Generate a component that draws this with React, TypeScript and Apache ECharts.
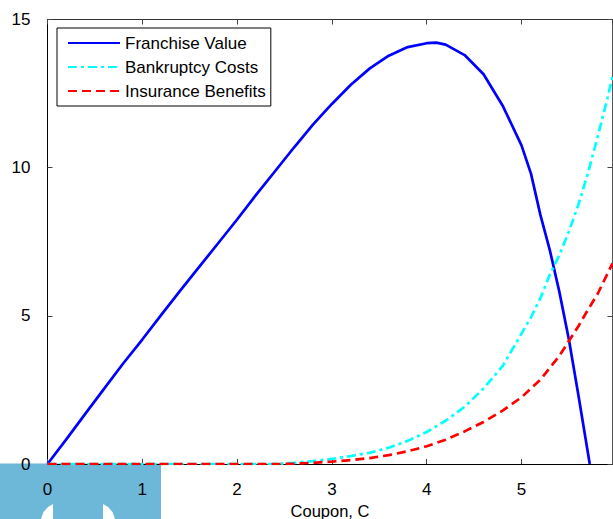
import React, { useEffect, useRef } from "react";
import * as echarts from "echarts";

// Franchise value (blue, solid)
const couponFV = [0, 0.2, 0.4, 0.6, 0.8, 1.0, 1.2, 1.4, 1.6, 1.8, 2.0, 2.2, 2.4, 2.6, 2.8, 3.0, 3.2, 3.4, 3.6, 3.8, 4.0, 4.1, 4.2, 4.4, 4.6, 4.8, 5.0, 5.1, 5.2, 5.3, 5.4, 5.5, 5.6, 5.72];
const franchiseValue = [0, 0.84, 1.7, 2.55, 3.4, 4.2, 5.03, 5.85, 6.65, 7.45, 8.25, 9.08, 9.88, 10.68, 11.45, 12.15, 12.8, 13.35, 13.78, 14.07, 14.2, 14.22, 14.15, 13.8, 13.15, 12.1, 10.75, 9.8, 8.4, 7.2, 5.8, 4.2, 2.33, 0];

// Bankruptcy costs (cyan, dash-dot)
const couponBC = [0, 1, 2, 2.4, 2.6, 2.8, 3.0, 3.2, 3.4, 3.6, 3.8, 4.0, 4.2, 4.4, 4.6, 4.8, 5.0, 5.1, 5.2, 5.3, 5.4, 5.5, 5.6, 5.7, 5.8, 5.9, 5.96];
const bankruptcyCosts = [0, 0, 0, 0, 0.04, 0.1, 0.17, 0.27, 0.38, 0.55, 0.78, 1.08, 1.46, 1.93, 2.55, 3.3, 4.4, 4.95, 5.6, 6.4, 7.05, 7.85, 8.75, 9.8, 11.0, 12.25, 13.07];

// Insurance benefits (red, dashed)
const couponIB = [0, 1, 2, 2.5, 2.6, 2.8, 3.0, 3.2, 3.4, 3.6, 3.8, 4.0, 4.2, 4.4, 4.6, 4.8, 5.0, 5.2, 5.4, 5.5, 5.6, 5.7, 5.8, 5.96];
const insuranceBenefits = [0, 0, 0, 0, 0.01, 0.04, 0.08, 0.13, 0.2, 0.3, 0.43, 0.6, 0.82, 1.1, 1.42, 1.8, 2.25, 2.85, 3.65, 4.15, 4.65, 5.2, 5.72, 6.77];

const seriesNames = ["Franchise Value", "Bankruptcy Costs", "Insurance Benefits"];
const xMin = 0;
const xMax = 5.96;
const xInterval = 1;
const yMin = 0;
const yMax = 15;
const yInterval = 5;
const xAxisTitle = "Coupon, C";

const FONT = "'Liberation Sans', Arial, Helvetica, sans-serif";

export default function App() {
  const ref = useRef<HTMLDivElement>(null);

  useEffect(() => {
    if (!ref.current) return;
    const chart = echarts.init(ref.current, undefined, { renderer: "svg" });

    const tickStyle = { inside: true, length: 5, lineStyle: { color: "#444", width: 1 } };
    const labelStyle = { color: "#000", fontSize: 17, fontFamily: FONT };

    chart.setOption({
      animation: false,
      backgroundColor: "#fff",
      grid: {
        left: 47.5,
        right: 0.5,
        top: 19.5,
        bottom: 55,
        containLabel: false,
        outerBoundsMode: "none",
      },
      legend: {
        orient: "vertical",
        left: 57,
        top: 28,
        padding: [6, 5, 6, 10],
        itemGap: 6,
        itemWidth: 52,
        itemHeight: 14,
        borderColor: "#000",
        borderWidth: 1,
        backgroundColor: "#fff",
        data: seriesNames,
        itemStyle: { opacity: 0 },
        textStyle: { ...labelStyle, lineHeight: 18 },
      },
      xAxis: [
        {
          type: "value",
          position: "bottom",
          min: xMin,
          max: xMax,
          interval: xInterval,
          axisLine: { show: true, onZero: false, lineStyle: { color: "#000", width: 1 } },
          axisTick: tickStyle,
          axisLabel: { ...labelStyle, margin: 17, showMaxLabel: false },
          splitLine: { show: false },
          name: xAxisTitle,
          nameLocation: "middle",
          nameGap: 37,
          nameTextStyle: { ...labelStyle, fontSize: 16.5, lineHeight: 15 },
        },
        {
          type: "value",
          position: "top",
          min: xMin,
          max: xMax,
          interval: xInterval,
          axisLine: { show: true, onZero: false, lineStyle: { color: "#333", width: 1 } },
          axisTick: tickStyle,
          axisLabel: { show: false },
          splitLine: { show: false },
        },
      ],
      yAxis: [
        {
          type: "value",
          position: "left",
          min: yMin,
          max: yMax,
          interval: yInterval,
          axisLine: { show: true, onZero: false, lineStyle: { color: "#000", width: 1 } },
          axisTick: tickStyle,
          axisLabel: { ...labelStyle, margin: 17 },
          splitLine: { show: false },
        },
        {
          type: "value",
          position: "right",
          min: yMin,
          max: yMax,
          interval: yInterval,
          axisLine: { show: true, onZero: false, lineStyle: { color: "#555", width: 1 } },
          axisTick: tickStyle,
          axisLabel: { show: false },
          splitLine: { show: false },
        },
      ],
      graphic: [
        {
          type: "rect",
          z: -10,
          shape: { x: 0, y: 463.5, width: 161, height: 56 },
          style: { fill: "#6db8d8" },
        },
        {
          type: "polygon",
          z: -9,
          shape: { points: [[53, 504], [53, 519], [41, 519], [43.5, 512], [48, 507]] },
          style: { fill: "#ffffff" },
        },
        {
          type: "polygon",
          z: -9,
          shape: { points: [[103, 504], [103, 519], [115, 519], [112.5, 512], [108, 507]] },
          style: { fill: "#ffffff" },
        },
      ],
      series: [
        {
          name: seriesNames[0],
          type: "line",
          symbol: "none",
          xAxisIndex: 0,
          yAxisIndex: 0,
          data: couponFV.map((c, i) => [c, franchiseValue[i]]),
          lineStyle: { color: "#0000ff", width: 2.7, type: "solid" },
          itemStyle: { color: "#0000ff" },
        },
        {
          name: seriesNames[1],
          type: "line",
          symbol: "none",
          xAxisIndex: 0,
          yAxisIndex: 0,
          data: couponBC.map((c, i) => [c, bankruptcyCosts[i]]),
          lineStyle: { color: "#00ffff", width: 2.7, type: [9, 4, 3, 4] },
          itemStyle: { color: "#00ffff" },
        },
        {
          name: seriesNames[2],
          type: "line",
          symbol: "none",
          xAxisIndex: 0,
          yAxisIndex: 0,
          data: couponIB.map((c, i) => [c, insuranceBenefits[i]]),
          lineStyle: { color: "#ff0000", width: 2.7, type: [9, 5] },
          itemStyle: { color: "#ff0000" },
        },
      ],
    });

    return () => chart.dispose();
  }, []);

  return (
    <div
      ref={ref}
      style={{ position: "fixed", left: 0, top: 0, width: 613, height: 519, background: "#fff" }}
    />
  );
}
